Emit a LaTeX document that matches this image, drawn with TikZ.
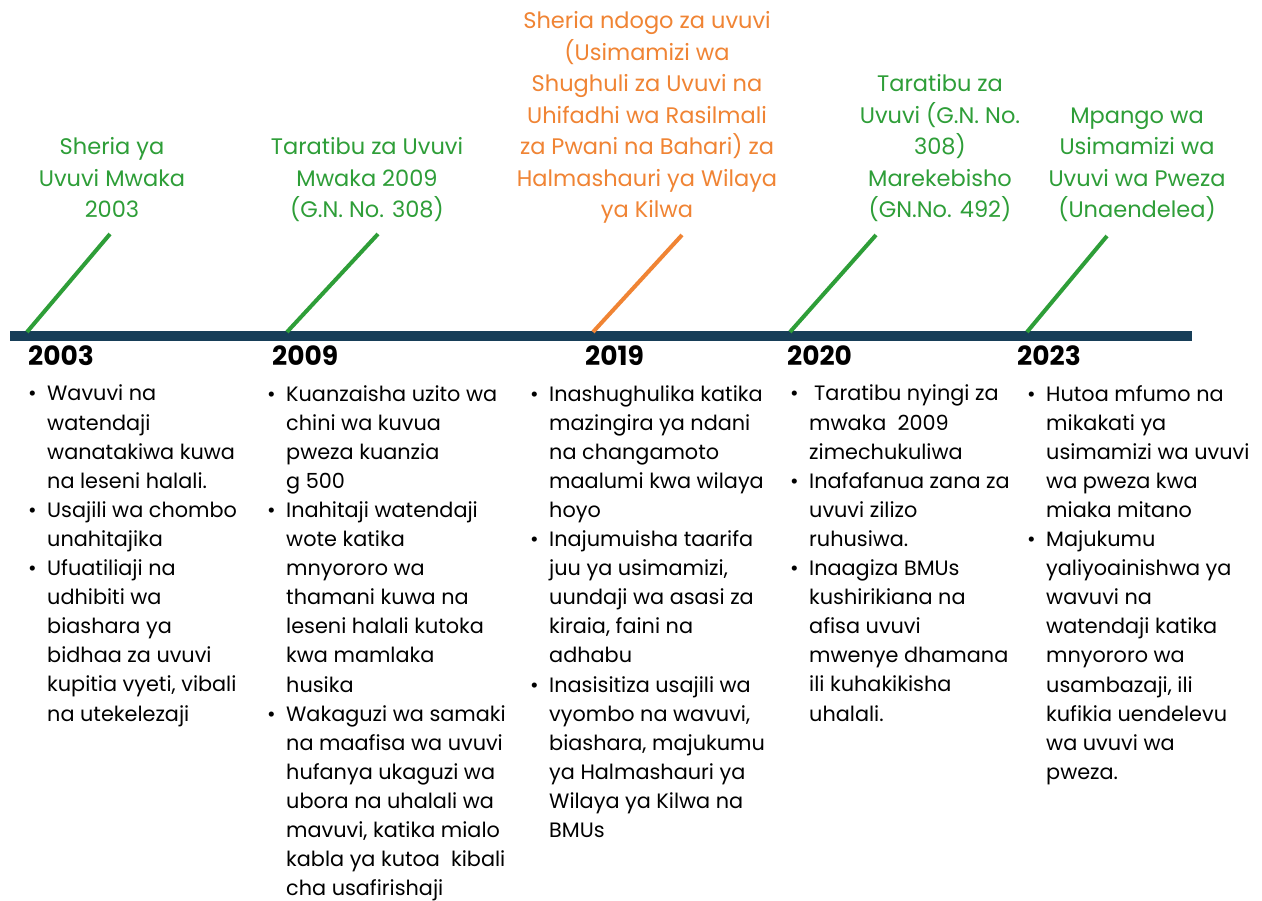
\documentclass[tikz,border=0pt]{standalone}
\usepackage{fontspec}
\setmainfont{Poppins}
\definecolor{barblue}{RGB}{23,62,88}
\definecolor{lawgreen}{RGB}{46,158,56}
\definecolor{laworange}{RGB}{240,132,52}
\newcommand{\bul}{\makebox[19pt][l]{\textbullet}}
\newcommand{\ind}{\hspace*{19pt}}
\begin{document}
\begin{tikzpicture}[x=1pt,y=-1pt]
  \tikzstyle{title}=[inner sep=0pt,anchor=base,align=center,font=\fontsize{22.5}{31.5}\selectfont]
  \tikzstyle{year}=[inner sep=0pt,anchor=base west,font=\fontsize{26.5}{26.5}\selectfont\bfseries]
  \tikzstyle{notes}=[inner sep=0pt,anchor=base west,align=left,font=\fontsize{20.8}{29.1}\selectfont]
  \tikzstyle{tick}=[line width=4pt]
  \useasboundingbox[fill=white] (0,0) rectangle (1262,901);
  % time line
  \coordinate (start) at (10,336);
  \coordinate (end) at (1192,336);
  \draw[barblue,line width=10pt] (start) -- (end);
  % ticks
  \coordinate (b03) at (27,332);  \coordinate (e03) at (110,234);
  \coordinate (b09) at (287,332); \coordinate (e09) at (378,234);
  \coordinate (b19) at (593,332); \coordinate (e19) at (682,235);
  \coordinate (b20) at (790,332); \coordinate (e20) at (876,235);
  \coordinate (b23) at (1027,332);\coordinate (e23) at (1107,236);
  \draw[tick,lawgreen] (b03) -- (e03);
  \draw[tick,lawgreen] (b09) -- (e09);
  \draw[tick,laworange] (b19) -- (e19);
  \draw[tick,lawgreen] (b20) -- (e20);
  \draw[tick,lawgreen] (b23) -- (e23);
  % titles (base = last line)
  \node[title,lawgreen] (law03) at (112,218) {Sheria ya\\Uvuvi Mwaka\\2003};
  \node[title,lawgreen] (law09) at (367,218) {Taratibu za Uvuvi\\Mwaka 2009\\(G.N. No. 308)};
  \node[title,laworange] (law19) at (647,218) {Sheria ndogo za uvuvi\\(Usimamizi wa\\Shughuli za Uvuvi na\\Uhifadhi wa Rasilmali\\za Pwani na Bahari) za\\Halmashauri ya Wilaya\\ya Kilwa};
  \node[title,lawgreen] (law20) at (940,218) {Taratibu za\\Uvuvi (G.N. No.\\308)\\Marekebisho\\(GN.No. 492)};
  \node[title,lawgreen] (law23) at (1137,218) {Mpango wa\\Usimamizi wa\\Uvuvi wa Pweza\\(Unaendelea)};
  % years
  \node[year] (y03) at (28,366) {2003};
  \node[year] (y09) at (272,366) {2009};
  \node[year] (y19) at (585,366) {2019};
  \node[year] (y20) at (787,366) {2020};
  \node[year] (y23) at (1017,366) {2023};
  % notes (base = last line)
  \node[notes] (n03) at (28,721) {\bul Wavuvi na\\\ind watendaji\\\ind wanatakiwa kuwa\\\ind na leseni halali.\\
    \bul Usajili wa chombo\\\ind unahitajika\\
    \bul Ufuatiliaji na\\\ind udhibiti wa\\\ind biashara ya\\\ind bidhaa za uvuvi\\\ind kupitia vyeti, vibali\\\ind na utekelezaji};
  \node[notes] (n09) at (267,895.7) {\bul Kuanzaisha uzito wa\\\ind chini wa kuvua\\\ind pweza kuanzia\\\ind g 500\\
    \bul Inahitaji watendaji\\\ind wote katika\\\ind mnyororo wa\\\ind thamani kuwa na\\\ind leseni halali kutoka\\\ind kwa mamlaka\\\ind husika\\
    \bul Wakaguzi wa samaki\\\ind na maafisa wa uvuvi\\\ind hufanya ukaguzi wa\\\ind ubora na uhalali wa\\\ind mavuvi, katika mialo\\\ind kabla ya kutoa~ kibali\\\ind cha usafirishaji};
  \node[notes] (n19) at (530,837.5) {\bul Inashughulika katika\\\ind mazingira ya ndani\\\ind na changamoto\\\ind maalumi kwa wilaya\\\ind hoyo\\
    \bul Inajumuisha taarifa\\\ind juu ya usimamizi,\\\ind uundaji wa asasi za\\\ind kiraia, faini na\\\ind adhabu\\
    \bul Inasisitiza usajili wa\\\ind vyombo na wavuvi,\\\ind biashara, majukumu\\\ind ya Halmashauri ya\\\ind Wilaya ya Kilwa na\\\ind BMUs};
  \node[notes] (n20) at (790,721) {\bul\hspace*{5pt}Taratibu nyingi za\\\ind mwaka~ 2009\\\ind zimechukuliwa\\
    \bul Inafafanua zana za\\\ind uvuvi zilizo\\\ind ruhusiwa.\\
    \bul Inaagiza BMUs\\\ind kushirikiana na\\\ind afisa uvuvi\\\ind mwenye dhamana\\\ind ili kuhakikisha\\\ind uhalali.};
  \node[notes] (n23) at (1027,779.3) {\bul Hutoa mfumo na\\\ind mikakati ya\\\ind usimamizi wa uvuvi\\\ind wa pweza kwa\\\ind miaka mitano\\
    \bul Majukumu\\\ind yaliyoainishwa ya\\\ind wavuvi na\\\ind watendaji katika\\\ind mnyororo wa\\\ind usambazaji, ili\\\ind kufikia uendelevu\\\ind wa uvuvi wa\\\ind pweza.};
\end{tikzpicture}
\end{document}
